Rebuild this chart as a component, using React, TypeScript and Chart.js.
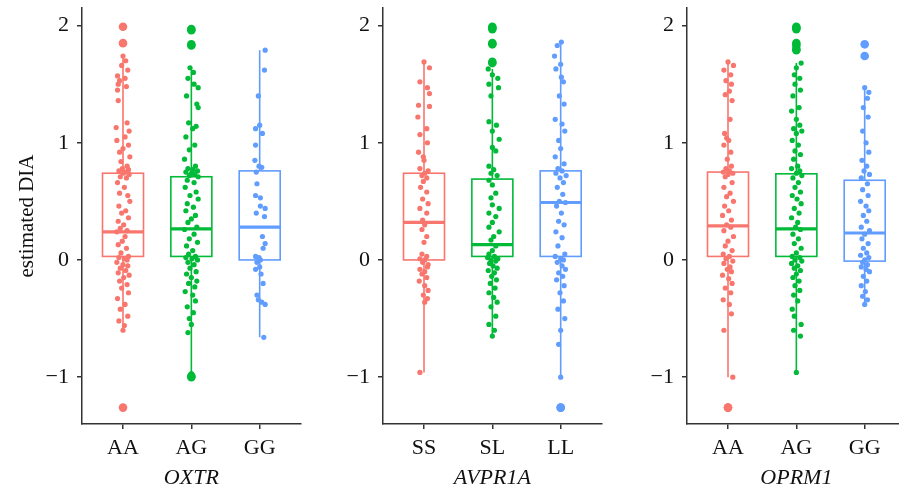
import React, { useEffect, useRef } from "react";
import { Chart, registerables } from "chart.js";

Chart.register(...registerables);

// ---------- data ----------
const OXTR_CATS = ["AA", "AG", "GG"];
const AVPR1A_CATS = ["SS", "SL", "LL"];
const OPRM1_CATS = ["AA", "AG", "GG"];

const Y_TICKS = [-1, 0, 1, 2];
const Y_TICK_LABELS = ["\u22121", "0", "1", "2"];

const GROUP_COLORS = ["#F8766D", "#00BA38", "#619CFF"];

// box stats per group: [lowerWhisker, q1, median, q3, upperWhisker]
const OXTR_BOX = [
  [-0.6, 0.03, 0.24, 0.74, 1.74],
  [-0.97, 0.03, 0.265, 0.71, 1.64],
  [-0.66, 0.0, 0.28, 0.76, 1.79],
];
const AVPR1A_BOX = [
  [-0.96, 0.0, 0.32, 0.74, 1.69],
  [-0.65, 0.03, 0.13, 0.69, 1.63],
  [-1.0, 0.03, 0.49, 0.76, 1.86],
];
const OPRM1_BOX = [
  [-1.0, 0.03, 0.29, 0.75, 1.69],
  [-0.96, 0.03, 0.265, 0.735, 1.68],
  [-0.38, -0.01, 0.23, 0.68, 1.47],
];

// outliers per group
const OXTR_OUT = [[1.99, 1.85, -1.26], [1.97, 1.96, 1.84, 1.83, -0.99, -1.0], []];
const AVPR1A_OUT = [[], [1.99, 1.98, 1.97, 1.85, 1.84, 1.69, 1.68], [-1.26, -1.26]];
const OPRM1_OUT = [[-1.26, -1.26], [1.99, 1.98, 1.97, 1.85, 1.83, 1.8, 1.79], [1.84, 1.74]];

// jittered observations: [jitter offset, value]
const OXTR_AA = [[0.0,1.74],[0.04,1.70],[-0.02,1.66],[0.07,1.62],[-0.08,1.57],[0.03,1.55],[-0.05,1.53],[-0.07,1.50],[0.05,1.48],[-0.08,1.45],[-0.07,1.36],[0.06,1.17],[-0.1,1.13],[0.09,1.10],[0.03,1.05],[-0.09,1.02],[0.08,0.98],[0.0,0.95],[-0.05,0.92],[0.1,0.88],[-0.03,0.84],[0.06,0.80],[-0.01,0.78],[0.08,0.77],[-0.06,0.76],[0.03,0.75],[0.0,0.74],[0.09,0.73],[-0.04,0.71],[0.05,0.70],[-0.08,0.66],[0.02,0.62],[-0.05,0.57],[0.07,0.55],[0.1,0.50],[-0.06,0.46],[0.04,0.42],[-0.02,0.40],[0.08,0.36],[-0.07,0.33],[0.01,0.30],[-0.04,0.27],[0.06,0.25],[-0.09,0.24],[0.03,0.20],[-0.01,0.16],[-0.07,0.13],[0.05,0.10],[-0.03,0.06],[0.08,0.03],[-0.06,0.02],[0.02,0.01],[0.06,0.0],[-0.09,-0.02],[0.0,-0.04],[0.07,-0.05],[-0.04,-0.07],[0.04,-0.09],[-0.07,-0.11],[0.09,-0.13],[0.01,-0.15],[-0.05,-0.18],[0.06,-0.21],[-0.02,-0.24],[0.08,-0.28],[-0.08,-0.33],[0.03,-0.38],[-0.04,-0.42],[0.07,-0.48],[-0.06,-0.52],[0.02,-0.56],[0.0,-0.60]];
const OXTR_AG = [[-0.02,1.64],[0.03,1.60],[-0.05,1.55],[0.04,1.50],[0.1,1.47],[-0.07,1.40],[0.08,1.33],[0.1,1.30],[-0.04,1.17],[0.07,1.14],[0.02,1.12],[-0.08,1.05],[0.05,0.98],[-0.03,0.94],[-0.1,0.86],[0.06,0.80],[-0.05,0.78],[0.02,0.77],[0.09,0.76],[-0.08,0.75],[0.0,0.74],[0.05,0.73],[-0.03,0.72],[0.1,0.71],[-0.06,0.68],[0.04,0.66],[-0.09,0.62],[0.07,0.58],[-0.02,0.55],[0.1,0.52],[-0.06,0.48],[0.03,0.45],[-0.08,0.42],[0.06,0.38],[0.0,0.35],[-0.05,0.32],[0.08,0.28],[-0.1,0.26],[0.04,0.22],[-0.03,0.18],[0.09,0.15],[-0.07,0.12],[0.02,0.08],[-0.04,0.05],[0.06,0.03],[-0.08,0.02],[0.01,0.01],[0.09,0.0],[-0.05,-0.02],[0.04,-0.04],[-0.02,-0.07],[0.07,-0.10],[-0.07,-0.12],[0.0,-0.15],[0.08,-0.18],[-0.04,-0.20],[0.05,-0.23],[-0.09,-0.27],[0.02,-0.30],[0.06,-0.35],[-0.06,-0.40],[0.03,-0.45],[-0.03,-0.50],[0.0,-0.55],[-0.05,-0.62],[0.0,-0.97]];
const OXTR_GG = [[0.08,1.79],[0.07,1.62],[-0.02,1.40],[0.0,1.15],[-0.06,1.12],[0.04,1.08],[-0.06,0.98],[-0.07,0.85],[-0.01,0.80],[0.03,0.79],[-0.05,0.75],[-0.04,0.65],[-0.06,0.55],[0.01,0.53],[0.01,0.46],[0.08,0.44],[-0.05,0.40],[0.07,0.37],[0.04,0.20],[0.08,0.14],[0.05,0.10],[-0.06,0.03],[-0.01,0.02],[0.01,0.0],[-0.04,-0.02],[0.0,-0.06],[-0.06,-0.08],[0.02,-0.12],[0.05,-0.20],[-0.04,-0.30],[-0.02,-0.34],[0.03,-0.36],[0.08,-0.38],[0.06,-0.66]];

const AVPR1A_SS = [[0.0,1.69],[0.08,1.64],[-0.06,1.52],[0.05,1.47],[0.08,1.42],[-0.08,1.32],[0.08,1.31],[-0.09,1.22],[0.04,1.12],[-0.06,1.07],[0.05,1.00],[-0.08,0.92],[-0.01,0.88],[0.0,0.85],[-0.06,0.78],[0.06,0.76],[0.01,0.74],[-0.03,0.72],[0.04,0.70],[-0.01,0.67],[-0.05,0.62],[0.04,0.58],[-0.02,0.52],[0.06,0.48],[-0.06,0.44],[0.04,0.40],[-0.02,0.34],[0.01,0.30],[-0.03,0.26],[0.04,0.20],[0.0,0.15],[-0.03,0.05],[0.04,0.03],[-0.06,0.01],[0.01,0.0],[-0.02,-0.02],[0.06,-0.04],[0.05,-0.06],[-0.06,-0.08],[0.01,-0.10],[-0.03,-0.12],[0.04,-0.15],[-0.07,-0.18],[0.01,-0.22],[0.06,-0.26],[-0.01,-0.30],[0.05,-0.33],[0.01,-0.36],[-0.06,-0.96]];
const AVPR1A_SL = [[-0.06,1.63],[0.0,1.58],[0.08,1.55],[-0.05,1.50],[0.09,1.47],[-0.02,1.40],[-0.05,1.18],[0.06,1.15],[0.0,1.10],[0.1,1.03],[0.0,0.96],[0.05,0.93],[-0.05,0.80],[0.02,0.77],[-0.02,0.74],[0.07,0.72],[-0.05,0.68],[0.0,0.64],[0.05,0.57],[-0.02,0.53],[0.0,0.47],[0.1,0.44],[-0.05,0.40],[0.05,0.37],[0.0,0.32],[-0.05,0.28],[0.1,0.24],[0.02,0.20],[-0.02,0.17],[0.05,0.12],[0.0,0.08],[-0.05,0.05],[0.03,0.03],[-0.07,0.02],[0.08,0.01],[-0.02,0.0],[0.05,-0.01],[-0.04,-0.03],[0.01,-0.05],[0.07,-0.07],[-0.06,-0.09],[0.03,-0.11],[-0.01,-0.14],[0.06,-0.17],[-0.03,-0.20],[0.04,-0.24],[-0.05,-0.28],[0.02,-0.32],[0.07,-0.36],[-0.02,-0.40],[0.05,-0.48],[-0.05,-0.55],[0.03,-0.60],[0.0,-0.65]];
const AVPR1A_LL = [[0.01,1.86],[-0.05,1.83],[-0.09,1.74],[0.0,1.67],[-0.07,1.63],[0.01,1.56],[0.04,1.52],[-0.02,1.40],[0.05,1.33],[-0.08,1.20],[0.02,1.16],[0.06,1.10],[-0.03,1.02],[0.0,0.95],[-0.08,0.88],[0.05,0.82],[-0.04,0.78],[0.02,0.76],[-0.07,0.74],[0.08,0.72],[-0.01,0.70],[0.04,0.66],[-0.05,0.62],[0.03,0.56],[-0.02,0.50],[0.07,0.49],[-0.06,0.46],[0.01,0.40],[-0.03,0.33],[0.05,0.30],[-0.07,0.24],[0.02,0.19],[-0.04,0.12],[0.06,0.05],[-0.08,0.03],[0.0,0.01],[0.04,0.0],[-0.05,-0.02],[0.02,-0.05],[0.07,-0.08],[-0.03,-0.11],[0.03,-0.14],[-0.06,-0.17],[0.05,-0.22],[-0.01,-0.28],[0.04,-0.35],[-0.04,-0.42],[0.06,-0.50],[0.0,-0.60],[-0.03,-0.72],[0.0,-1.0]];

const OPRM1_AA = [[0.0,1.69],[0.08,1.66],[-0.06,1.62],[0.04,1.58],[-0.03,1.53],[0.05,1.50],[0.02,1.44],[-0.04,1.41],[0.06,1.36],[0.03,1.20],[-0.05,1.08],[-0.02,1.04],[0.01,1.02],[-0.06,0.98],[0.04,0.92],[-0.01,0.86],[0.05,0.80],[-0.03,0.78],[0.02,0.76],[-0.07,0.75],[0.07,0.74],[0.0,0.73],[-0.04,0.71],[0.06,0.66],[-0.06,0.62],[0.03,0.57],[-0.02,0.54],[0.08,0.50],[-0.05,0.46],[0.01,0.42],[-0.08,0.38],[0.05,0.34],[-0.02,0.30],[0.04,0.28],[-0.06,0.25],[0.08,0.20],[0.0,0.16],[-0.04,0.12],[0.06,0.08],[-0.07,0.05],[0.02,0.03],[-0.03,0.01],[0.07,-0.01],[-0.06,-0.03],[0.03,-0.06],[-0.01,-0.08],[0.05,-0.10],[-0.08,-0.13],[0.01,-0.16],[0.06,-0.20],[-0.04,-0.24],[0.04,-0.28],[-0.07,-0.34],[0.02,-0.38],[0.05,-0.46],[-0.06,-0.60],[0.07,-1.0]];
const OPRM1_AG = [[0.07,1.68],[0.0,1.64],[-0.03,1.58],[0.05,1.55],[-0.02,1.50],[0.06,1.45],[-0.05,1.40],[0.04,1.30],[-0.07,1.27],[0.0,1.20],[0.05,1.15],[-0.04,1.12],[0.08,1.10],[0.0,1.08],[-0.06,1.02],[0.03,0.98],[-0.02,0.93],[0.06,0.90],[-0.04,0.86],[0.02,0.80],[-0.07,0.78],[0.05,0.76],[0.0,0.74],[0.08,0.72],[-0.05,0.70],[0.03,0.66],[-0.02,0.62],[0.06,0.58],[-0.06,0.55],[0.01,0.52],[0.07,0.48],[-0.03,0.44],[0.04,0.40],[-0.07,0.36],[0.02,0.32],[-0.01,0.28],[0.06,0.26],[-0.05,0.22],[0.03,0.18],[-0.03,0.14],[0.07,0.10],[0.0,0.06],[-0.06,0.03],[0.05,0.02],[-0.02,0.0],[0.08,-0.01],[-0.07,-0.03],[0.02,-0.05],[-0.03,-0.07],[0.06,-0.09],[0.0,-0.12],[-0.05,-0.15],[0.04,-0.18],[-0.02,-0.22],[0.05,-0.26],[-0.04,-0.30],[0.02,-0.35],[-0.06,-0.42],[-0.03,-0.48],[0.07,-0.55],[-0.04,-0.60],[0.06,-0.65],[0.0,-0.96]];
const OPRM1_GG = [[0.0,1.47],[0.06,1.43],[0.04,1.38],[-0.02,1.30],[0.05,1.22],[-0.03,1.10],[0.02,1.00],[0.06,0.92],[-0.04,0.85],[0.03,0.80],[-0.01,0.76],[0.07,0.73],[-0.05,0.70],[0.04,0.65],[-0.03,0.60],[0.05,0.55],[-0.06,0.50],[0.02,0.46],[0.06,0.42],[-0.02,0.38],[0.03,0.33],[-0.05,0.28],[0.07,0.25],[0.0,0.22],[-0.04,0.18],[0.05,0.14],[-0.02,0.10],[0.03,0.06],[-0.06,0.04],[0.06,0.02],[0.0,0.0],[-0.03,-0.02],[0.04,-0.04],[-0.05,-0.06],[0.02,-0.08],[0.07,-0.10],[-0.02,-0.14],[0.03,-0.18],[-0.05,-0.22],[0.01,-0.27],[-0.03,-0.31],[0.04,-0.34],[0.0,-0.38]];

const PANELS = [
  { title: "OXTR", cats: OXTR_CATS, box: OXTR_BOX, out: OXTR_OUT, pts: [OXTR_AA, OXTR_AG, OXTR_GG], yTitle: true, left: 0 },
  { title: "AVPR1A", cats: AVPR1A_CATS, box: AVPR1A_BOX, out: AVPR1A_OUT, pts: [AVPR1A_SS, AVPR1A_SL, AVPR1A_LL], yTitle: false, left: 301 },
  { title: "OPRM1", cats: OPRM1_CATS, box: OPRM1_BOX, out: OPRM1_OUT, pts: [OPRM1_AA, OPRM1_AG, OPRM1_GG], yTitle: false, left: 605 },
];

const SERIF = "'Liberation Serif', 'Times New Roman', serif";
const AXIS_COLOR = "#333333";
const TEXT_COLOR = "#111111";

function boxPlugin(boxes: number[][]) {
  return {
    id: "boxes",
    beforeDatasetsDraw(chart: any) {
      const { ctx, scales } = chart;
      const xs = scales.x;
      const ys = scales.y;
      ctx.save();
      boxes.forEach((b, i) => {
        const [lo, q1, med, q3, hi] = b;
        const cx = xs.getPixelForValue(i + 1);
        const x0 = xs.getPixelForValue(i + 1 - 0.3);
        const x1 = xs.getPixelForValue(i + 1 + 0.3);
        ctx.strokeStyle = GROUP_COLORS[i];
        ctx.lineWidth = 1.6;
        ctx.beginPath();
        ctx.moveTo(cx, ys.getPixelForValue(lo));
        ctx.lineTo(cx, ys.getPixelForValue(q1));
        ctx.moveTo(cx, ys.getPixelForValue(q3));
        ctx.lineTo(cx, ys.getPixelForValue(hi));
        ctx.stroke();
        const yTop = ys.getPixelForValue(q3);
        const yBot = ys.getPixelForValue(q1);
        ctx.fillStyle = "#ffffff";
        ctx.fillRect(x0, yTop, x1 - x0, yBot - yTop);
        ctx.strokeRect(x0, yTop, x1 - x0, yBot - yTop);
        ctx.lineWidth = 3.2;
        ctx.beginPath();
        const ym = ys.getPixelForValue(med);
        ctx.moveTo(x0, ym);
        ctx.lineTo(x1, ym);
        ctx.stroke();
      });
      ctx.restore();
    },
  };
}

function Panel({ p }: { p: any }) {
  const ref = useRef<HTMLCanvasElement>(null);
  useEffect(() => {
    if (!ref.current) return;
    const datasets: any[] = [];
    p.pts.forEach((arr: number[][], i: number) => {
      datasets.push({
        data: arr.map(([dx, y]) => ({ x: i + 1 + dx, y })),
        backgroundColor: GROUP_COLORS[i],
        borderWidth: 0,
        pointRadius: 2.6,
      });
    });
    p.out.forEach((arr: number[], i: number) => {
      datasets.push({
        data: arr.map((y) => ({ x: i + 1, y })),
        backgroundColor: GROUP_COLORS[i],
        borderWidth: 0,
        pointRadius: 4.3,
      });
    });
    const chart = new Chart(ref.current, {
      type: "scatter",
      data: { datasets },
      plugins: [boxPlugin(p.box)],
      options: {
        animation: false,
        responsive: false,
        devicePixelRatio: 1,
        layout: { padding: { top: 8, left: 0, right: 0, bottom: 0 } },
        plugins: { legend: { display: false }, tooltip: { enabled: false } },
        scales: {
          x: {
            type: "linear",
            min: 0.4,
            max: 3.6,
            afterBuildTicks: (s: any) => {
              s.ticks = p.cats.map((_: string, i: number) => ({ value: i + 1 }));
            },
            afterFit: (s: any) => {
              s.height = 69;
              s.paddingLeft = 0;
              s.paddingRight = 0;
            },
            ticks: {
              autoSkip: false,
              maxRotation: 0,
              padding: 6,
              color: TEXT_COLOR,
              font: { family: SERIF, size: 22 },
              callback: (v: any) => p.cats[Math.round(Number(v)) - 1],
            },
            grid: { drawOnChartArea: false, drawTicks: true, tickLength: 5, color: AXIS_COLOR, lineWidth: 1.5 },
            border: { display: true, color: AXIS_COLOR, width: 1.5 },
            title: {
              display: true,
              text: p.title,
              color: TEXT_COLOR,
              font: { family: SERIF, size: 22, style: "italic" },
              padding: { top: 0, bottom: 2 },
            },
          },
          y: {
            type: "linear",
            min: -1.4,
            max: 2.15,
            afterBuildTicks: (s: any) => {
              s.ticks = Y_TICKS.map((v) => ({ value: v }));
            },
            afterFit: (s: any) => {
              s.width = 82;
              s.paddingTop = 0;
              s.paddingBottom = 0;
            },
            ticks: {
              padding: 8,
              color: TEXT_COLOR,
              font: { family: SERIF, size: 22 },
              callback: (v: any) => Y_TICK_LABELS[Y_TICKS.indexOf(Number(v))],
            },
            grid: { drawOnChartArea: false, drawTicks: true, tickLength: 5, color: AXIS_COLOR, lineWidth: 1.5 },
            border: { display: true, color: AXIS_COLOR, width: 1.5 },
            title: {
              display: p.yTitle,
              text: "estimated DIA",
              color: TEXT_COLOR,
              font: { family: SERIF, size: 21 },
              padding: { top: 15, bottom: 0 },
            },
          },
        },
      },
    } as any);
    return () => chart.destroy();
  }, [p]);
  return (
    <canvas
      ref={ref}
      width={305}
      height={493}
      style={{ position: "absolute", left: p.left, top: 0, width: 305, height: 493 }}
    />
  );
}

export default function App() {
  return (
    <div
      style={{
        position: "absolute",
        left: 0,
        top: 0,
        width: 899,
        height: 493,
        overflow: "hidden",
        background: "#ffffff",
      }}
    >
      {PANELS.map((p) => (
        <Panel key={p.title} p={p} />
      ))}
    </div>
  );
}
